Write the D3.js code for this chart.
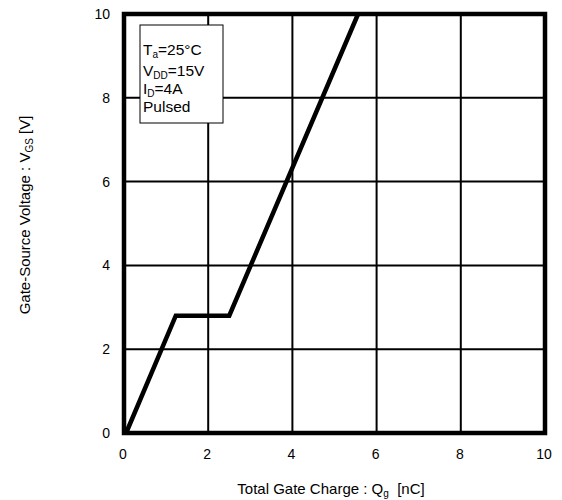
<!DOCTYPE html>
<html>
<head>
<meta charset="utf-8">
<script src="https://d3js.org/d3.v7.min.js"></script>
<style>
  body { margin: 0; background: #fff; }
  svg text { font-family: "Liberation Sans", Arial, sans-serif; fill: #000; }
</style>
</head>
<body>
<div id="chart"></div>
<script>
// gate charge curve
const qg = [0.05, 1.23, 2.5, 5.56];
const vgs = [0, 2.8, 2.8, 10];
const xTicks = [0, 2, 4, 6, 8, 10];
const yTicks = [0, 2, 4, 6, 8, 10];

const width = 562, height = 500;
const plotL = 124, plotR = 545, plotT = 14, plotB = 433;

const svg = d3.select("#chart").append("svg")
    .attr("width", width)
    .attr("height", height);

const x = d3.scaleLinear().domain([0, 10]).range([plotL, plotR]);
const y = d3.scaleLinear().domain([0, 10]).range([plotB, plotT]);

// grid
svg.append("g").selectAll("line")
    .data(xTicks.slice(1, -1))
    .enter().append("line")
    .attr("x1", d => x(d)).attr("x2", d => x(d))
    .attr("y1", plotT).attr("y2", plotB)
    .attr("stroke", "#000").attr("stroke-width", 2);

svg.append("g").selectAll("line")
    .data(yTicks.slice(1, -1))
    .enter().append("line")
    .attr("y1", d => y(d)).attr("y2", d => y(d))
    .attr("x1", plotL).attr("x2", plotR)
    .attr("stroke", "#000").attr("stroke-width", 2);

// tick labels
svg.append("g").selectAll("text")
    .data(xTicks)
    .enter().append("text")
    .attr("x", d => x(d) - 1)
    .attr("y", 459)
    .attr("text-anchor", "middle")
    .style("font-size", "14px")
    .text(d => d);

svg.append("g").selectAll("text")
    .data(yTicks)
    .enter().append("text")
    .attr("x", 110)
    .attr("y", d => y(d) + 5)
    .attr("text-anchor", "end")
    .style("font-size", "14px")
    .text(d => d);

// curve
const line = d3.line().x((d, i) => x(qg[i])).y(d => y(d));
svg.append("path")
    .datum(vgs)
    .attr("d", line)
    .attr("fill", "none")
    .attr("stroke", "#000")
    .attr("stroke-width", 4.5)
    .attr("stroke-linejoin", "miter");

// frame
svg.append("rect")
    .attr("x", plotL).attr("y", plotT)
    .attr("width", plotR - plotL).attr("height", plotB - plotT)
    .attr("fill", "none")
    .attr("stroke", "#000")
    .attr("stroke-width", 4.5);

// condition box
svg.append("rect")
    .attr("x", 140).attr("y", 25)
    .attr("width", 83).attr("height", 98)
    .attr("fill", "#fff")
    .attr("stroke", "#000")
    .attr("stroke-width", 1);

const lines = [
    [["T", 0], ["a", 1], ["=25°C", 0]],
    [["V", 0], ["DD", 1], ["=15V", 0]],
    [["I", 0], ["D", 1], ["=4A", 0]],
    [["Pulsed", 0]]
];
const lineY = [55, 76, 94, 112];
lines.forEach((parts, i) => {
    const t = svg.append("text").attr("x", 143).attr("y", lineY[i]).style("font-size", "15.5px");
    let prevSub = 0;
    parts.forEach(([s, sub]) => {
        t.append("tspan")
            .attr("dy", (sub - prevSub) * 3)
            .style("font-size", sub ? "10px" : "15.5px")
            .text(s);
        prevSub = sub;
    });
});

// axis titles
const xl = svg.append("text")
    .attr("x", 331).attr("y", 494)
    .attr("text-anchor", "middle")
    .attr("xml:space", "preserve")
    .style("font-size", "15px");
xl.append("tspan").text("Total Gate Charge : Q");
xl.append("tspan").attr("dy", 3).style("font-size", "10px").text("g");
xl.append("tspan").attr("dy", -3).text("  [nC]");

const yl = svg.append("text")
    .attr("transform", "translate(30,215) rotate(-90)")
    .attr("text-anchor", "middle")
    .style("font-size", "15px");
yl.append("tspan").text("Gate-Source Voltage : V");
yl.append("tspan").attr("dy", 3).style("font-size", "10px").text("GS");
yl.append("tspan").attr("dy", -3).text(" [V]");
</script>
</body>
</html>
